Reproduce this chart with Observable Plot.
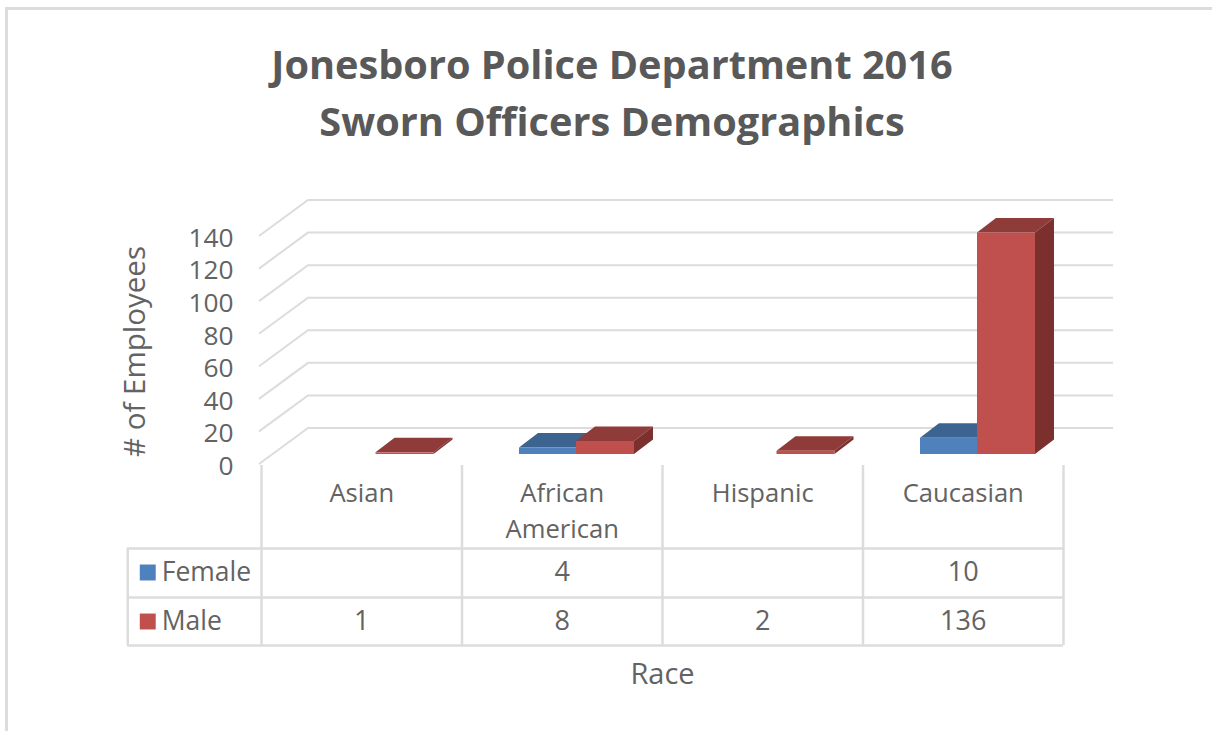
<!DOCTYPE html>
<html>
<head>
<meta charset="utf-8">
<script src="https://cdn.jsdelivr.net/npm/d3@7"></script>
<script src="https://cdn.jsdelivr.net/npm/@observablehq/plot@0.6"></script>
<style>
html,body{margin:0;padding:0;background:#fff;width:1212px;height:731px;overflow:hidden}
#sheet{position:absolute;left:5px;top:7px;right:0;bottom:0;border-left:3px solid #dcdcdc;border-top:3px solid #dcdcdc}
#title{position:absolute;left:0;top:36px;width:1224px;text-align:center;font:700 39.7px/57px "Open Sans",sans-serif;color:#595959}
#chart,#table{position:absolute;left:0}
#chart{top:190px}
#table{top:465px}
svg{overflow:visible}
</style>
</head>
<body>
<div id="sheet"></div>
<div id="title">Jonesboro Police Department 2016<br>Sworn Officers Demographics</div>
<div id="chart"></div>
<div id="table"></div>
<script>
const categories = ["Asian", "African\nAmerican", "Hispanic", "Caucasian"];
const female = [null, 4, null, 10];
const male = [1, 8, 2, 136];
const yTicks = [0, 20, 40, 60, 80, 100, 120, 140];
const seriesNames = ["Female", "Male"];
const seriesFront = ["#4f81bd", "#c0504d"];
const seriesTop = ["#3d6490", "#8f3b39"];
const seriesSide = ["#355878", "#7c302e"];
const yTitle = "# of Employees";
const xTitle = "Race";

const font = '"Open Sans",sans-serif';
const ink = "#636363";
const grid = "#dcdcdc";

const rows = s => categories
  .map((category, i) => ({category, value: (s === 0 ? female : male)[i]}))
  .filter(d => d.value != null);

const insets = [{insetLeft: 57.5, insetRight: 86}, {insetLeft: 114.5, insetRight: 28}];
const barDepth = {dx: 19, dy: -14.5};

function gridMark(index, {y}, values, {width, marginLeft, marginRight}) {
  const g = d3.create("svg:g").attr("fill", "none").attr("stroke", grid).attr("stroke-width", 2);
  for (const v of yTicks) {
    const p = y(v);
    g.append("path").attr("d", `M${marginLeft - 2},${p + 10}L${marginLeft + 47},${p - 26}H${width - marginRight + 50}`);
  }
  return g.node();
}

function facesMark(s) {
  return function (index, {x, y}) {
    const g = d3.create("svg:g");
    const bw = x.bandwidth();
    for (const d of rows(s)) {
      const l = x(d.category) + insets[s].insetLeft;
      const r = x(d.category) + bw - insets[s].insetRight;
      const t = y(d.value), b = y(0);
      const {dx, dy} = barDepth;
      g.append("polygon").attr("fill", seriesTop[s])
        .attr("points", `${l},${t} ${l + dx},${t + dy} ${r + dx},${t + dy} ${r},${t}`);
      g.append("polygon").attr("fill", seriesSide[s])
        .attr("points", `${r},${t} ${r + dx},${t + dy} ${r + dx},${b + dy} ${r},${b}`);
    }
    return g.node();
  };
}

const seriesMarks = seriesNames.flatMap((name, s) => [
  facesMark(s),
  Plot.barY(rows(s), {x: "category", y: "value", fill: seriesFront[s], ...insets[s]})
]);

const chart = Plot.plot({
  width: 1212,
  height: 290,
  marginLeft: 261,
  marginRight: 149,
  marginTop: 36,
  marginBottom: 26,
  style: {fontFamily: font, background: "transparent"},
  x: {type: "band", domain: categories, padding: 0, round: false, axis: null},
  y: {domain: [0, 140], label: null},
  marks: [
    gridMark,
    Plot.axisY({ticks: yTicks, tickSize: 0, tickPadding: 28, dy: 12, fontSize: 26.3, color: ink, label: null}),
    Plot.text([yTitle], {frameAnchor: "left", textAnchor: "middle", dx: -126, dy: 11, rotate: -90, fontSize: 29.5, fill: ink}),
    ...seriesMarks
  ]
});
document.getElementById("chart").append(chart);

const rowDomain = ["Category", "Female", "Male"];
const tableCells = seriesNames.flatMap((name, s) =>
  rows(s).map(d => ({category: d.category, row: name, value: d.value})));

const table = Plot.plot({
  width: 1212,
  height: 266,
  marginLeft: 127,
  marginRight: 149,
  marginTop: 0,
  marginBottom: 86,
  style: {fontFamily: font, background: "transparent"},
  x: {type: "band", domain: categories, padding: 0, round: false, range: [261, 1063], axis: null},
  y: {type: "point", domain: rowDomain, range: [58, 156], padding: 0, axis: null},
  marks: [
    Plot.ruleX(categories, {x: d => d, dx: -100.25, stroke: grid, strokeWidth: 2.5}),
    Plot.ruleX(categories.slice(-1), {x: d => d, dx: 100.25, stroke: grid, strokeWidth: 2.5}),
    Plot.ruleX(categories.slice(0, 1), {x: d => d, y1: () => "Female", y2: () => "Male", dx: -234, insetTop: -24, insetBottom: -24, stroke: grid, strokeWidth: 2.5}),
    Plot.ruleY(seriesNames, {y: d => d, dy: -24, stroke: grid, strokeWidth: 2.5}),
    Plot.ruleY(seriesNames.slice(-1), {y: d => d, dy: 24, stroke: grid, strokeWidth: 2.5}),
    Plot.text(categories, {x: d => d, y: () => "Category", text: d => d, lineAnchor: "top", dy: -47, fontSize: 25.6, lineHeight: 1.41, fill: ink}),
    Plot.text(tableCells, {x: "category", y: "row", text: "value", fontSize: 27, dy: 0, fill: ink}),
    Plot.dot(seriesNames, {x: () => categories[0], y: d => d, dx: -214, symbol: "square", r: 9, fill: (d, i) => seriesFront[i]}),
    Plot.text(seriesNames, {x: () => categories[0], y: d => d, text: d => d, dx: -200, textAnchor: "start", fontSize: 26.5, fill: ink}),
    Plot.text([xTitle], {frameAnchor: "bottom", lineAnchor: "middle", dx: 67, dy: 29, fontSize: 29, fill: ink})
  ]
});
document.getElementById("table").append(table);
</script>
</body>
</html>
